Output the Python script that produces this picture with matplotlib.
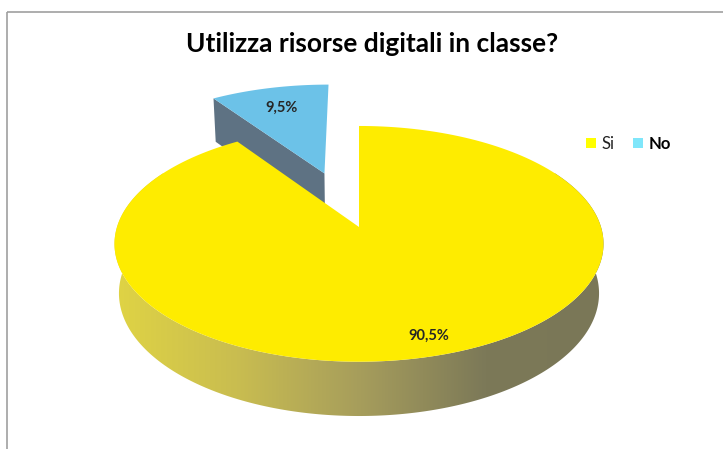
import numpy as np
import matplotlib.pyplot as plt
from matplotlib.patches import Polygon, Rectangle
from matplotlib.colors import LinearSegmentedColormap

# data
categories = ['Si', 'No']
values = [90.5, 9.5]
value_labels = ['90,5%', '9,5%']
title = 'Utilizza risorse digitali in classe?'

top_colors = ['#feec00', '#6cc2e8']
legend_colors = ['#ffff00', '#7fe6fa']
cut_color = '#5e7283'
explode = [0.0, 0.52]
label_r = [0.87, 0.75]

plt.rcParams['font.family'] = ['Lato', 'DejaVu Sans']

# view of the 3d pie (pixel layout)
phi = np.radians(28.5)
D = 6.15
R = 242
cx, cy = 359, 227
H = 0.235


def proj(x, y, z):
    s, c = np.sin(phi), np.cos(phi)
    u = y * c - z * s
    d = z * c + y * s
    k = D / (D - d)
    return np.column_stack([cx + x * k * R, cy - u * k * R])


fig = plt.figure(figsize=(7.23, 4.49), dpi=100)
ax = fig.add_axes([0, 0, 1, 1])
ax.set_xlim(0, 723)
ax.set_ylim(449, 0)
ax.axis('off')

# chart frame
ax.add_patch(Rectangle((7, 12), 800, 500, fill=False, ec='#a0a0a0', lw=1.2))

fr = np.array(values) / sum(values)
starts = np.concatenate([[0], np.cumsum(fr)[:-1]]) * 2 * np.pi
ends = np.cumsum(fr) * 2 * np.pi

slices = []
for i in range(len(values)):
    tm = (starts[i] + ends[i]) / 2
    ox, oz = explode[i] * np.sin(tm), -explode[i] * np.cos(tm)
    slices.append((starts[i], ends[i], tm, ox, oz))

# draw back (exploded) slice first, then the big one
order = np.argsort(explode)[::-1]
for i in order:
    t0, t1, tm, ox, oz = slices[i]
    t = np.linspace(t0, t1, 200)
    rim_x, rim_z = ox + np.sin(t), oz - np.cos(t)

    if explode[i] > 0:
        # cut face at start angle
        ex, ez = ox + np.sin(t0), oz - np.cos(t0)
        face = np.vstack([proj(np.array([ox]), np.array([0.0]), np.array([oz])),
                          proj(np.array([ex]), np.array([0.0]), np.array([ez])),
                          proj(np.array([ex]), np.array([-H]), np.array([ez])),
                          proj(np.array([ox]), np.array([-H]), np.array([oz]))])
        ax.add_patch(Polygon(face, closed=True, fc=cut_color, ec='none'))
    else:
        # outer front side with gradient
        ts = np.linspace(max(t0, np.radians(60)), min(t1, np.radians(300)), 300)
        sx, sz = ox + np.sin(ts), oz - np.cos(ts)
        top = proj(sx, np.zeros_like(ts), sz)
        bot = proj(sx, np.full_like(ts, -H), sz)
        side = Polygon(np.vstack([top, bot[::-1]]), closed=True, fc='none', ec='none')
        ax.add_patch(side)
        cmap = LinearSegmentedColormap.from_list('side', ['#e0d444', '#c9bd50', '#a69d5c', '#7c7958', '#7a7757'])
        grad = np.linspace(0, 1, 256).reshape(1, -1)
        im = ax.imshow(grad, cmap=cmap, aspect='auto', extent=(112, 610, 440, 150), zorder=1)
        im.set_clip_path(side)

    topface = np.vstack([proj(np.array([ox]), np.array([0.0]), np.array([oz])),
                         proj(rim_x, np.zeros_like(t), rim_z)])
    ax.add_patch(Polygon(topface, closed=True, fc=top_colors[i], ec='none', zorder=2))

    lx, lz = ox + label_r[i] * np.sin(tm), oz - label_r[i] * np.cos(tm)
    p = proj(np.array([lx]), np.array([0.0]), np.array([lz]))[0]
    ax.text(p[0], p[1], value_labels[i], ha='center', va='center', fontsize=10.5,
            fontweight='bold', color='#262626', zorder=5)

ax.text(372, 44, title, ha='center', va='center', fontsize=19, fontweight='bold',
        color='black')

# legend
leg_x = [586, 633]
for i, name in enumerate(categories):
    ax.add_patch(Rectangle((leg_x[i], 138), 10, 10, fc=legend_colors[i], ec='none'))
    ax.text(leg_x[i] + 16, 144, name, ha='left', va='center', fontsize=12,
            color='#222222' if i == 0 else 'black',
            fontweight='normal' if i == 0 else 'bold')

fig.savefig('out.png', dpi=100)
